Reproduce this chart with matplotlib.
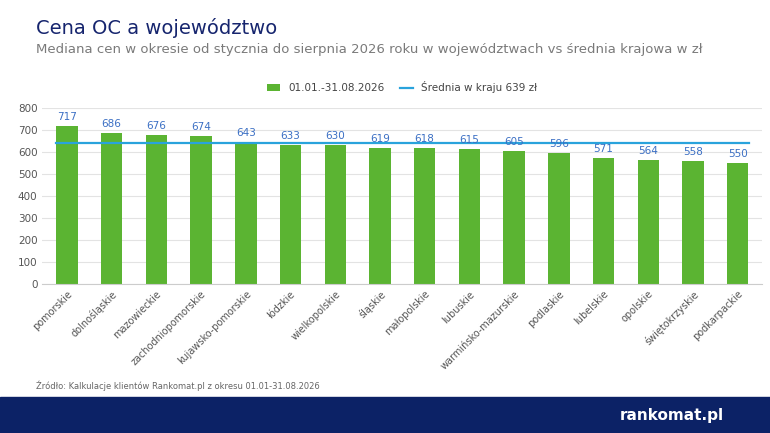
import matplotlib.pyplot as plt
from matplotlib.patches import Rectangle

regions = ["pomorskie", "dolnośląskie", "mazowieckie", "zachodniopomorskie", "kujawsko-pomorskie",
           "łódzkie", "wielkopolskie", "śląskie", "małopolskie", "lubuskie",
           "warmińsko-mazurskie", "podlaskie", "lubelskie", "opolskie", "świętokrzyskie", "podkarpackie"]
values = [717, 686, 676, 674, 643, 633, 630, 619, 618, 615, 605, 596, 571, 564, 558, 550]
average = 639

fig = plt.figure(figsize=(7.7, 4.33), dpi=100)
ax = fig.add_axes([0.055, 0.344, 0.935, 0.407])

x = range(len(regions))
bars = ax.bar(x, values, width=0.48, color="#5bb432", label="01.01.-31.08.2026", zorder=2)
line, = ax.plot([-0.25, len(regions) - 0.75], [average, average], color="#29a3dc", lw=1.6,
                label="Średnia w kraju 639 zł", zorder=3)
for i, v in enumerate(values):
    ax.text(i, v + 18, str(v), ha="center", va="bottom", fontsize=7.5, color="#3b6fc4")

ax.set_ylim(0, 800)
ax.set_xlim(-0.55, len(regions) - 0.45)
ax.set_yticks(range(0, 801, 100))
ax.tick_params(axis="y", labelsize=7.5, colors="#555555", length=0)
ax.tick_params(axis="x", length=0)
ax.set_xticks(list(x))
ax.set_xticklabels(regions, rotation=45, ha="right", rotation_mode="anchor", fontsize=7, color="#555555")
ax.grid(axis="y", color="#e3e3e3", lw=0.8, zorder=0)
for s in ["top", "right", "left"]:
    ax.spines[s].set_visible(False)
ax.spines["bottom"].set_color("#cccccc")

ax.legend(handles=[bars, line], loc="lower center", bbox_to_anchor=(0.5, 1.03), ncol=2, frameon=False,
          fontsize=7.5, handlelength=1.2, columnspacing=1.5, labelcolor="#444444")

fig.text(0.047, 0.935, "Cena OC a województwo", fontsize=14, color="#16256e", va="center")
fig.text(0.047, 0.885, "Mediana cen w okresie od stycznia do sierpnia 2026 roku w województwach vs średnia krajowa w zł",
         fontsize=9.5, color="#7a7a7a", va="center")
fig.text(0.047, 0.11, "Źródło: Kalkulacje klientów Rankomat.pl z okresu 01.01-31.08.2026",
         fontsize=6, color="#666666", va="center")

fig.patches.append(Rectangle((0, 0), 1, 0.082, transform=fig.transFigure, color="#0c2266", zorder=0))
fig.text(0.94, 0.041, "rankomat.pl", fontsize=11, color="white", weight="bold", ha="right", va="center")

fig.savefig("out.png", dpi=100)
